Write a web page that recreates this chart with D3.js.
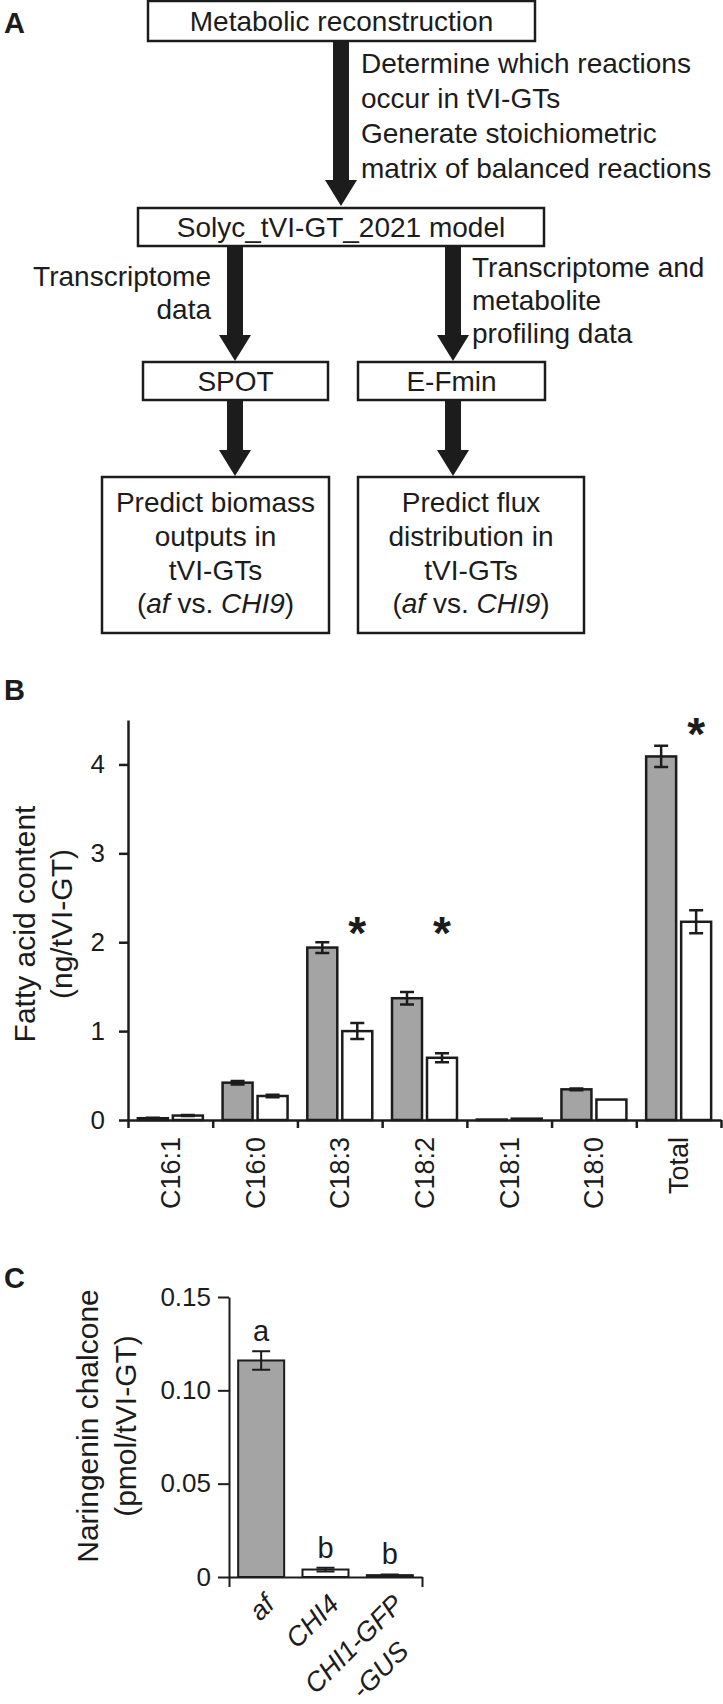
<!DOCTYPE html>
<html>
<head>
<meta charset="utf-8">
<script src="https://cdn.jsdelivr.net/npm/d3@7"></script>
<style>
  body { margin: 0; background: #fff; }
  svg { display: block; font-family: "Liberation Sans", Arial, Helvetica, sans-serif; }
</style>
</head>
<body>
<svg id="fig" width="723" height="1704"></svg>
<script>
// panel B: fatty acids (af = grey, CHI9 = white)
const fattyAcids  = ["C16:1", "C16:0", "C18:3", "C18:2", "C18:1", "C18:0", "Total"];
const afContent   = [0.02, 0.42, 1.94, 1.37, 0.005, 0.345, 4.09];
const afSE        = [0.005, 0.02, 0.06, 0.07, 0.002, 0.01, 0.12];
const chi9Content = [0.05, 0.27, 1.00, 0.70, 0.015, 0.23, 2.23];
const chi9SE      = [0.005, 0.015, 0.09, 0.05, 0.003, 0.003, 0.13];
const fattyTicks  = [0, 1, 2, 3, 4];
const starred     = ["C18:3", "C18:2", "Total"];
const starLevel   = [2.22, 2.22, 4.45];

// panel C: naringenin chalcone
const genotypes     = ["af", "CHI4", "CHI1-GFP\n-GUS"];
const chalcone      = [0.116, 0.004, 0.001];
const chalconeSE    = [0.005, 0.001, 0.0004];
const groupLetter   = ["a", "b", "b"];
const chalconeTicks = [0, 0.05, 0.10, 0.15];

const ink = "#1c1c1c";
const grey = "#a4a4a4";
const svg = d3.select("#fig");

// panel letters
svg.selectAll("text.panel")
  .data([["A", 33], ["B", 700], ["C", 1288]])
  .join("text")
  .attr("class", "panel")
  .attr("x", 4).attr("y", d => d[1])
  .attr("font-size", 29).attr("font-weight", "bold").attr("fill", ink)
  .text(d => d[0]);

/* ---------- A: flow chart ---------- */
const it = s => [s, true];
const rm = s => [s, false];
const boxes = [
  { x: 148, y: 1,   w: 387, h: 40,  base: 31,  lines: [[rm("Metabolic reconstruction")]] },
  { x: 138, y: 208, w: 406, h: 38,  base: 237, lines: [[rm("Solyc_tVI-GT_2021 model")]] },
  { x: 143, y: 362, w: 185, h: 38,  base: 391, lines: [[rm("SPOT")]] },
  { x: 358, y: 362, w: 187, h: 38,  base: 391, lines: [[rm("E-Fmin")]] },
  { x: 102, y: 477, w: 227, h: 156, base: 512, lines: [
      [rm("Predict biomass")], [rm("outputs in")], [rm("tVI-GTs")],
      [rm("("), it("af"), rm(" vs. "), it("CHI9"), rm(")")]] },
  { x: 358, y: 477, w: 226, h: 156, base: 512, lines: [
      [rm("Predict flux")], [rm("distribution in")], [rm("tVI-GTs")],
      [rm("("), it("af"), rm(" vs. "), it("CHI9"), rm(")")]] }
];
const gA = svg.append("g");
gA.selectAll("rect").data(boxes).join("rect")
  .attr("x", d => d.x).attr("y", d => d.y).attr("width", d => d.w).attr("height", d => d.h)
  .attr("fill", "#fff").attr("stroke", ink).attr("stroke-width", 2.5);
boxes.forEach(b => {
  b.lines.forEach((segs, i) => {
    const t = gA.append("text")
      .attr("x", b.x + b.w / 2).attr("y", b.base + i * 33.8)
      .attr("text-anchor", "middle").attr("font-size", 28).attr("fill", ink);
    segs.forEach(s => t.append("tspan").attr("font-style", s[1] ? "italic" : "normal").text(s[0]));
  });
});

const arrows = [
  { x: 341, y1: 41,  y2: 206 },
  { x: 235, y1: 246, y2: 361 },
  { x: 453, y1: 246, y2: 361 },
  { x: 235, y1: 400, y2: 476 },
  { x: 453, y1: 400, y2: 476 }
];
const arrowPath = a => {
  const hw = 8, hh = 16, hl = 26;
  return `M${a.x - hw},${a.y1} H${a.x + hw} V${a.y2 - hl} H${a.x + hh} L${a.x},${a.y2} L${a.x - hh},${a.y2 - hl} H${a.x - hw} Z`;
};
gA.selectAll("path.arrow").data(arrows).join("path")
  .attr("class", "arrow").attr("d", arrowPath).attr("fill", ink);

const notes = [
  { x: 361, y: 73,  step: 35, anchor: "start", lines: ["Determine which reactions", "occur in tVI-GTs", "Generate stoichiometric", "matrix of balanced reactions"] },
  { x: 211, y: 286, step: 33, anchor: "end",   lines: ["Transcriptome", "data"] },
  { x: 472, y: 277, step: 33, anchor: "start", lines: ["Transcriptome and", "metabolite", "profiling data"] }
];
notes.forEach(n => {
  gA.selectAll(null).data(n.lines).join("text")
    .attr("x", n.x).attr("y", (d, i) => n.y + i * n.step)
    .attr("text-anchor", n.anchor).attr("font-size", 28).attr("fill", ink)
    .text(d => d);
});

/* ---------- B: fatty acid content ---------- */
const rowsB = fattyAcids.map((c, i) => ({
  cat: c,
  bars: [
    { k: "af",   v: afContent[i],   e: afSE[i] },
    { k: "CHI9", v: chi9Content[i], e: chi9SE[i] }
  ]
}));
const yB = d3.scaleLinear().domain([0, 4.5]).range([1120, 720]);
const xB = d3.scaleBand().domain(fattyAcids).range([128, 721]);
const xSub = d3.scaleBand().domain(["af", "CHI9"]).range([0, xB.bandwidth()])
  .paddingInner(0.143).paddingOuter(0.282);
const gB = svg.append("g");

const catB = gB.selectAll("g.cat").data(rowsB).join("g")
  .attr("class", "cat").attr("transform", d => `translate(${xB(d.cat)},0)`);
catB.selectAll("rect").data(d => d.bars).join("rect")
  .attr("x", d => xSub(d.k)).attr("y", d => yB(d.v))
  .attr("width", xSub.bandwidth()).attr("height", d => yB(0) - yB(d.v))
  .attr("fill", d => d.k === "af" ? grey : "#fff")
  .attr("stroke", ink).attr("stroke-width", 2.5);
catB.selectAll("path.err").data(d => d.bars.filter(b => b.e > 0.004)).join("path")
  .attr("class", "err")
  .attr("d", d => {
    const cx = xSub(d.k) + xSub.bandwidth() / 2, t = yB(d.v + d.e), b = yB(d.v - d.e);
    return `M${cx - 7},${t} H${cx + 7} M${cx},${t} V${b} M${cx - 7},${b} H${cx + 7}`;
  })
  .attr("fill", "none").attr("stroke", ink).attr("stroke-width", 2.5);

gB.selectAll("text.star").data(starred).join("text")
  .attr("class", "star")
  .attr("x", d => xB(d) + xSub("CHI9") + xSub.bandwidth() / 2)
  .attr("y", (d, i) => yB(starLevel[i]) + 26)
  .attr("text-anchor", "middle").attr("font-size", 46).attr("font-weight", "bold").attr("fill", ink)
  .text("*");

// axes
const yAxisB = gB.append("g").attr("transform", "translate(128,0)")
  .call(d3.axisLeft(yB).tickValues(fattyTicks).tickFormat(d3.format("d")).tickSize(9).tickSizeOuter(0).tickPadding(14));
const edgesB = d3.scaleLinear().domain([0, fattyAcids.length]).range([128, 721]);
const xAxisB = gB.append("g").attr("transform", "translate(0,1120)")
  .call(d3.axisBottom(edgesB).tickValues(d3.range(fattyAcids.length + 1)).tickFormat("").tickSize(8).tickSizeOuter(0));
const labelsB = gB.append("g").attr("transform", "translate(0,1120)")
  .call(d3.axisBottom(xB).tickSize(0));
labelsB.select(".domain").remove();
labelsB.selectAll("text")
  .attr("transform", "rotate(-90)").attr("x", -17).attr("y", 0).attr("dy", "0.35em")
  .attr("text-anchor", "end").attr("font-size", 27);

gB.append("text")
  .attr("transform", "translate(35,924) rotate(-90)")
  .attr("text-anchor", "middle").attr("font-size", 30).attr("fill", ink)
  .text("Fatty acid content");
gB.append("text")
  .attr("transform", "translate(72,924) rotate(-90)")
  .attr("text-anchor", "middle").attr("font-size", 30).attr("fill", ink)
  .text("(ng/tVI-GT)");

/* ---------- C: naringenin chalcone ---------- */
const rowsC = genotypes.map((g, i) => ({ name: g, v: chalcone[i], e: chalconeSE[i], letter: groupLetter[i] }));
const yC = d3.scaleLinear().domain([0, 0.15]).range([1577, 1297]);
const xC = d3.scaleBand().domain(genotypes).range([229, 422]).paddingInner(0.285).paddingOuter(0.1425);
const gC = svg.append("g");

gC.selectAll("rect").data(rowsC).join("rect")
  .attr("x", d => xC(d.name)).attr("y", d => yC(d.v))
  .attr("width", xC.bandwidth()).attr("height", d => yC(0) - yC(d.v))
  .attr("fill", (d, i) => i === 0 ? grey : "#fff")
  .attr("stroke", ink).attr("stroke-width", 2);
gC.selectAll("path.err").data(rowsC).join("path")
  .attr("class", "err")
  .attr("d", d => {
    const cx = xC(d.name) + xC.bandwidth() / 2, t = yC(d.v + d.e), b = yC(d.v - d.e);
    return `M${cx - 9},${t} H${cx + 9} M${cx},${t} V${b} M${cx - 9},${b} H${cx + 9}`;
  })
  .attr("fill", "none").attr("stroke", ink).attr("stroke-width", 2);
gC.selectAll("text.letter").data(rowsC).join("text")
  .attr("class", "letter")
  .attr("x", d => xC(d.name) + xC.bandwidth() / 2)
  .attr("y", d => yC(d.v + d.e) - 10)
  .attr("text-anchor", "middle").attr("font-size", 29).attr("fill", ink)
  .text(d => d.letter);

gC.append("g").attr("transform", "translate(229,0)")
  .call(d3.axisLeft(yC).tickValues(chalconeTicks)
    .tickFormat(d => d === 0 ? "0" : d3.format(".2f")(d)).tickSize(11).tickSizeOuter(0).tickPadding(7));
const edgesC = d3.scaleLinear().domain([0, genotypes.length]).range([229, 422]);
gC.append("g").attr("transform", "translate(0,1577)")
  .call(d3.axisBottom(edgesC).tickValues([0, genotypes.length]).tickFormat("").tickSize(10).tickSizeOuter(0));

gC.selectAll("g.geno").data(rowsC).join("g")
  .attr("class", "geno")
  .attr("transform", d => `translate(${xC(d.name) + xC.bandwidth() / 2 + 15},1606) rotate(-45)`)
  .each(function(d) {
    const g = d3.select(this);
    const parts = d.name.split("\n");
    const first = g.append("text").attr("text-anchor", "end")
      .attr("font-size", 27).attr("font-style", "italic").attr("fill", ink).text(parts[0]);
    if (parts[1]) {
      const len = first.node().getComputedTextLength();
      g.append("text").attr("x", -len / 2).attr("y", 37).attr("text-anchor", "middle")
        .attr("font-size", 27).attr("font-style", "italic").attr("fill", ink).text(parts[1]);
    }
  });

gC.append("text")
  .attr("transform", "translate(98,1426) rotate(-90)")
  .attr("text-anchor", "middle").attr("font-size", 30).attr("fill", ink)
  .text("Naringenin chalcone");
gC.append("text")
  .attr("transform", "translate(136,1426) rotate(-90)")
  .attr("text-anchor", "middle").attr("font-size", 30).attr("fill", ink)
  .text("(pmol/tVI-GT)");

// shared axis styling
svg.selectAll(".domain").attr("stroke", ink).attr("stroke-width", 2.5);
svg.selectAll(".tick line").attr("stroke", ink).attr("stroke-width", 2.5);
svg.selectAll(".tick text").attr("fill", ink).attr("font-family", null);
yAxisB.selectAll("text").attr("font-size", 26);
gC.selectAll(".tick text").attr("font-size", 26);
gC.selectAll(".domain, .tick line").attr("stroke-width", 2);
</script>
</body>
</html>
